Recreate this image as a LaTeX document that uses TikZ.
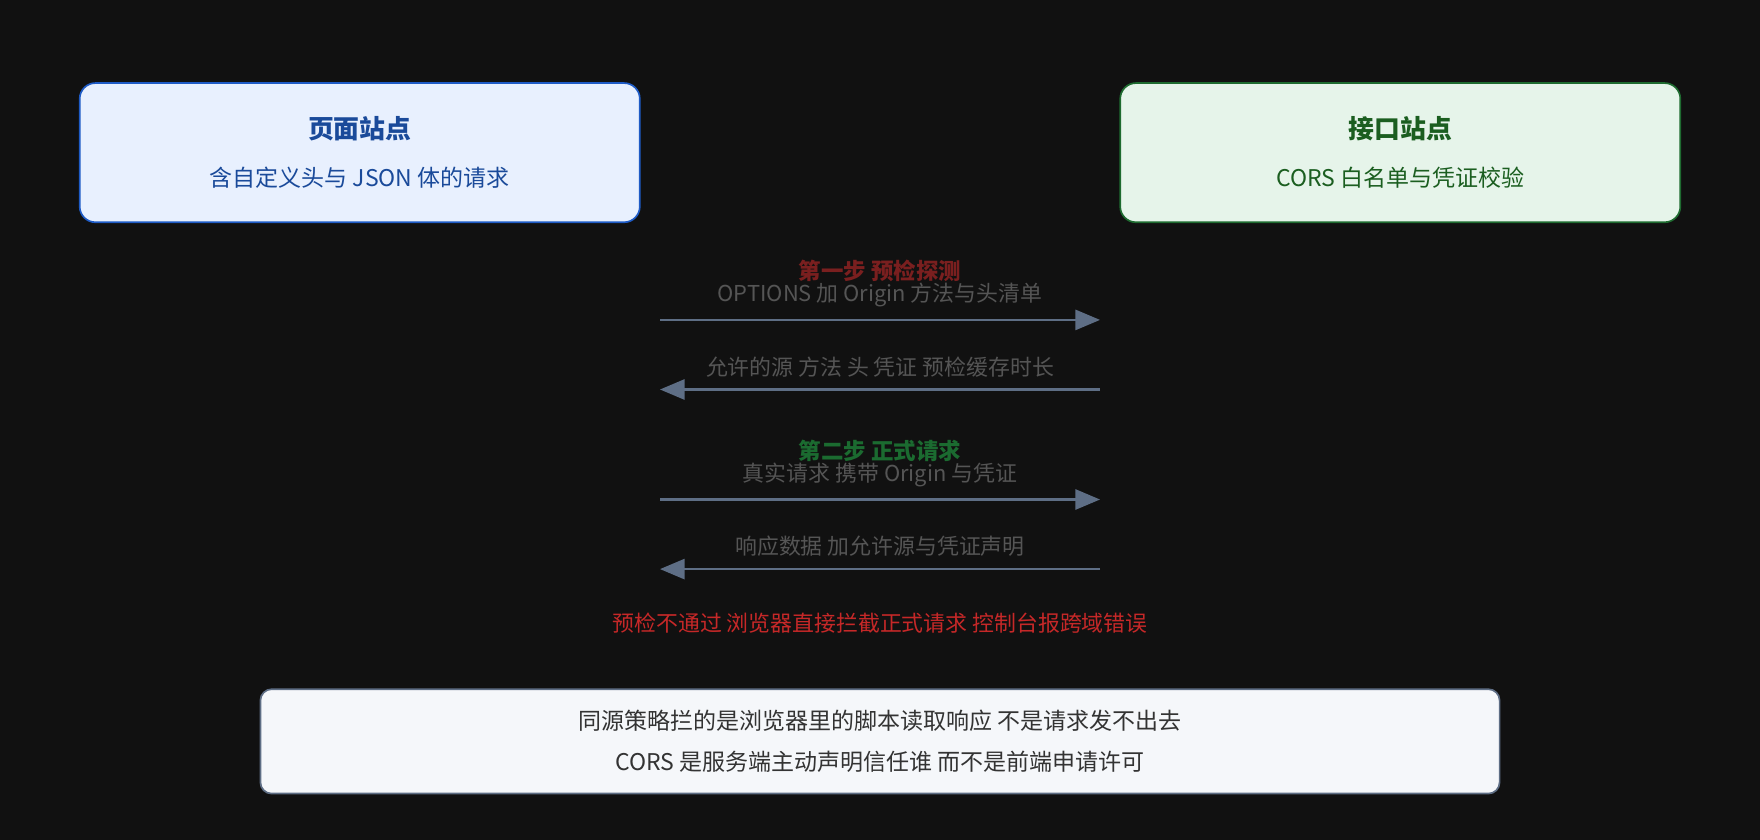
\documentclass[tikz,border=0pt]{standalone}
\usepackage{fontspec}
\setmainfont{Noto Sans CJK SC}
\usetikzlibrary{arrows.meta,positioning}
\definecolor{bgdark}{HTML}{111111}
\definecolor{pagefill}{HTML}{E8F0FE}
\definecolor{pageline}{HTML}{1E5BC6}
\definecolor{pagetext}{HTML}{1A4A9A}
\definecolor{apifill}{HTML}{E6F4EA}
\definecolor{apiline}{HTML}{1E6B30}
\definecolor{apitext}{HTML}{1B5E20}
\definecolor{stepred}{HTML}{7A1F1F}
\definecolor{stepgreen}{HTML}{1B6B30}
\definecolor{msgtext}{HTML}{555555}
\definecolor{msgline}{HTML}{5E6E85}
\definecolor{failred}{HTML}{C62828}
\definecolor{notefill}{HTML}{F5F7FA}
\tikzset{
  site/.style={draw, line width=1.5pt, rounded corners=14pt, minimum width=499pt, minimum height=124pt, align=center},
  phase/.style={font=\fontsize{20}{24}\selectfont\bfseries},
  msg/.style={text=msgtext, font=\fontsize{19.5}{24}\selectfont},
  flow/.style={draw=msgline, line width=2pt, -{Triangle[length=22pt,width=18pt]}},
}
\begin{document}
\begin{tikzpicture}[x=1pt,y=-1pt]
  \fill[bgdark] (0,0) rectangle (1568,748);
  \useasboundingbox (0,0) rectangle (1568,748);
  % the two sites
  \node[site, fill=pagefill, draw=pageline, text=pagetext] (page) at (320.5,136)
    {{\fontsize{23}{28}\selectfont\bfseries 页面站点}\\[22pt]{\fontsize{20.5}{24}\selectfont 含自定义头与 JSON 体的请求}};
  \node[site, fill=apifill, draw=apiline, text=apitext] (api) at (1247.5,136)
    {{\fontsize{23}{28}\selectfont\bfseries 接口站点}\\[22pt]{\fontsize{20.5}{24}\selectfont CORS 白名单与凭证校验}};
  % step one
  \node[phase, text=stepred] (stepA) at (784,241) {第一步 预检探测};
  \coordinate (aL1) at (588,285); \coordinate (aR1) at (980,285);
  \coordinate (aL2) at (588,347); \coordinate (aR2) at (980,347);
  \node[msg] (optA) at (784,263) {OPTIONS 加 Origin 方法与头清单};
  \draw[flow] (aL1) -- (aR1);
  \node[msg] (optB) at (784,327) {允许的源 方法 头 凭证 预检缓存时长};
  \draw[flow] (aR2) -- (aL2);
  % step two
  \node[phase, text=stepgreen] (stepB) at (784,402) {第二步 正式请求};
  \coordinate (bL1) at (588,445); \coordinate (bR1) at (980,445);
  \coordinate (bL2) at (588,507); \coordinate (bR2) at (980,507);
  \node[msg] (reqA) at (784,423) {真实请求 携带 Origin 与凭证};
  \draw[flow] (bL1) -- (bR1);
  \node[msg] (reqB) at (784,487) {响应数据 加允许源与凭证声明};
  \draw[flow] (bR2) -- (bL2);
  % failure
  \node[text=failred, font=\fontsize{19.5}{24}\selectfont] (fail) at (784,555) {预检不通过 浏览器直接拦截正式请求 控制台报跨域错误};
  % note
  \node[draw=msgline, line width=1.5pt, fill=notefill, rounded corners=10pt, minimum width=1104pt, minimum height=93pt,
    align=center, text=black!80, font=\fontsize{20.5}{24}\selectfont] (note) at (784,660.5)
    {同源策略拦的是浏览器里的脚本读取响应 不是请求发不出去\\[13pt]CORS 是服务端主动声明信任谁 而不是前端申请许可};
\end{tikzpicture}
\end{document}
